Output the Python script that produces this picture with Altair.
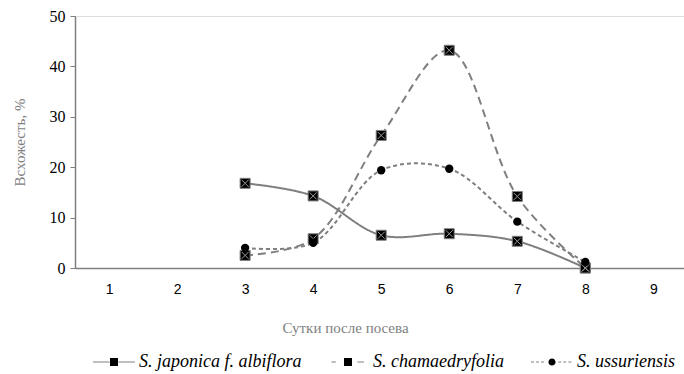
import altair as alt
import pandas as pd

days = [3, 4, 5, 6, 7, 8]
series_names = ["S. japonica f. albiflora", "S. chamaedryfolia", "S. ussuriensis"]
japonica = [16.8, 14.3, 6.5, 6.8, 5.3, 0.0]
chamaedryfolia = [2.5, 5.8, 26.3, 43.2, 14.2, 0.0]
ussuriensis = [4.0, 5.0, 19.4, 19.7, 9.2, 1.2]
x_ticks = [1, 2, 3, 4, 5, 6, 7, 8, 9]
y_ticks = [0, 10, 20, 30, 40, 50]

rows = []
for name, vals in zip(series_names, [japonica, chamaedryfolia, ussuriensis]):
    for d, v in zip(days, vals):
        rows.append({"day": d, "value": v, "series": name})
df = pd.DataFrame(rows)

GRAY = "#7f7f7f"
SERIF = "Liberation Serif, Times New Roman, serif"

x_enc = alt.X("day:Q", scale=alt.Scale(domain=[0.5, 9.45], nice=False, zero=False),
              axis=alt.Axis(values=x_ticks, format="d", title="Сутки после посева", tickSize=0,
                            labelFont="Liberation Sans", labelFontSize=14, labelColor="#000000",
                            labelPadding=14, domainColor=GRAY, domainWidth=1.5,
                            titleFont=SERIF, titleFontSize=15, titleColor=GRAY,
                            titleFontWeight="normal", titleX=270, titleY=59,
                            titleBaseline="middle", grid=False, labelFlush=False))
y_enc = alt.Y("value:Q", scale=alt.Scale(domain=[0, 50], nice=False),
              axis=alt.Axis(values=y_ticks, title="Всхожесть, %", tickSize=5, tickColor=GRAY,
                            domainColor=GRAY, domainWidth=1.5,
                            labelFont=SERIF, labelFontSize=16, labelColor="#000000",
                            labelPadding=5, titleFont=SERIF, titleFontSize=15,
                            titleColor=GRAY, titleFontWeight="normal", titlePadding=22,
                            grid=False))

base = alt.Chart(df)

dashes = {
    series_names[0]: [1, 0],
    series_names[1]: [8, 5],
    series_names[2]: [4, 3],
}
line_layers = []
for name in series_names:
    line_layers.append(
        base.transform_filter(alt.datum.series == name)
        .mark_line(interpolate="catmull-rom", color=GRAY, strokeWidth=2,
                   strokeDash=dashes[name])
        .encode(x=x_enc, y=y_enc)
    )

square_filter = (alt.datum.series == series_names[0]) | (alt.datum.series == series_names[1])
squares = base.transform_filter(square_filter).mark_point(
    shape="square", filled=True, fill="#000000", stroke=GRAY, strokeWidth=1, size=100, opacity=1
).encode(x="day:Q", y="value:Q")
crosses = base.transform_filter(square_filter).mark_point(
    shape="M-1,-1L1,1M-1,1L1,-1", filled=False, stroke="#9a9a9a", strokeWidth=1, size=49, opacity=1
).encode(x="day:Q", y="value:Q")
circles = base.transform_filter(alt.datum.series == series_names[2]).mark_point(
    shape="circle", filled=True, fill="#000000", size=70, opacity=1
).encode(x="day:Q", y="value:Q")

sq = "M-0.19,-0.19H0.19V0.19H-0.19Z"
circ = "M0.17,0A0.17,0.17 0 1,1 -0.17,0A0.17,0.17 0 1,1 0.17,0Z"
t = "0.015"
legend_paths = [
    f"M-1,-{t}H-0.21V{t}H-1Z M0.21,-{t}H1V{t}H0.21Z " + sq,
    f"M-0.79,-{t}H-0.58V{t}H-0.79Z M0.45,-{t}H0.76V{t}H0.45Z " + sq,
    f"M-1,-{t}H-0.86V{t}H-1Z M-0.76,-{t}H-0.62V{t}H-0.76Z M-0.52,-{t}H-0.38V{t}H-0.52Z "
    f"M0.3,-{t}H0.44V{t}H0.3Z M0.54,-{t}H0.68V{t}H0.54Z M0.78,-{t}H0.92V{t}H0.78Z " + circ,
]
legend_layer = base.mark_point(filled=True, color="#000000", opacity=0).encode(
    x="day:Q", y="value:Q",
    shape=alt.Shape("series:N", scale=alt.Scale(domain=series_names, range=legend_paths),
                    legend=alt.Legend(title=None, orient="none", legendX=17, legendY=324,
                                      direction="horizontal", symbolSize=1764,
                                      symbolOpacity=1, symbolFillColor="#000000",
                                      symbolStrokeColor=GRAY, symbolStrokeWidth=1.5,
                                      labelFont=SERIF, labelFontStyle="italic",
                                      labelFontSize=18, labelColor="#000000",
                                      labelOffset=3, columnPadding=24, labelLimit=400))
)

chart = alt.layer(*line_layers, squares, crosses, circles, legend_layer).properties(
    width=609, height=252,
    autosize=alt.AutoSizeParams(type="none"),
    padding={"left": 75, "top": 16, "right": 0, "bottom": 106},
).configure_view(stroke=None).configure(background="white")

chart.save("out.html", embed_options={"renderer": "svg", "actions": False})
